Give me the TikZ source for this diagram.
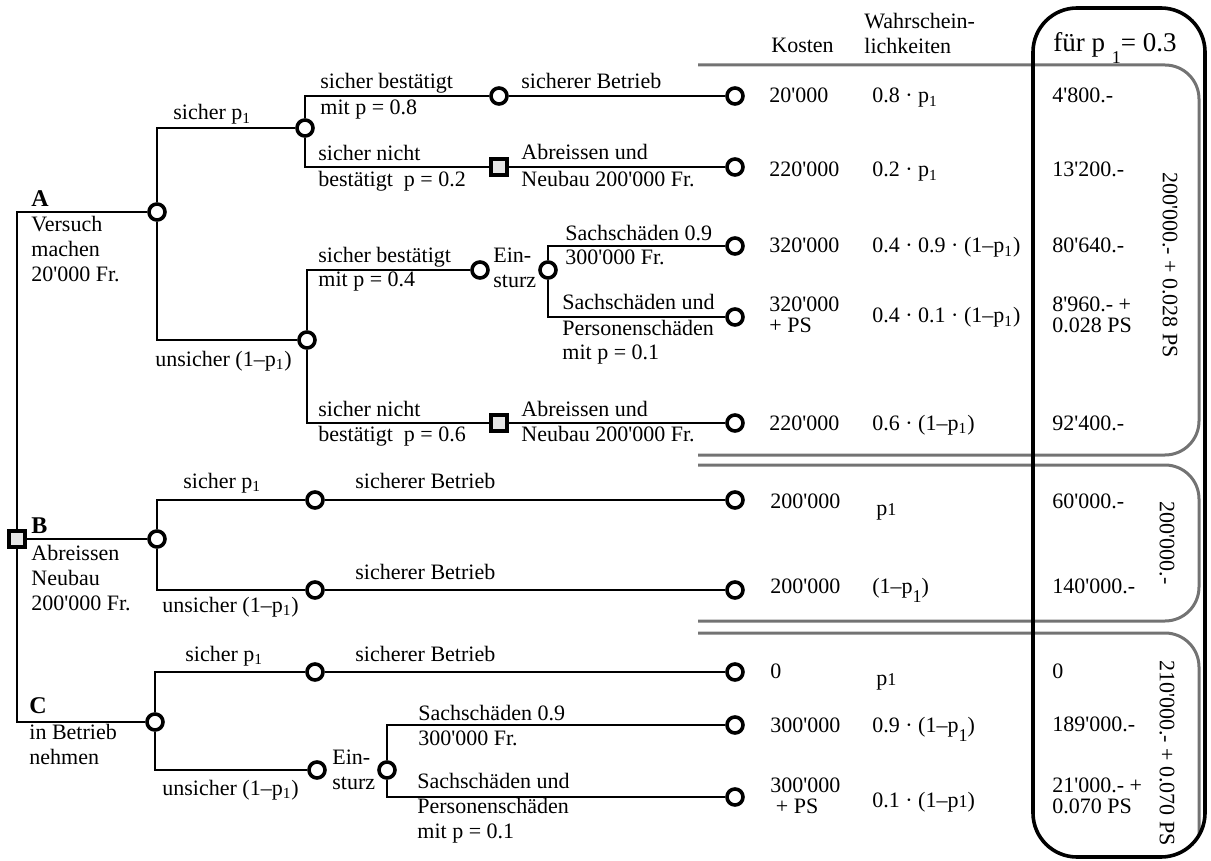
\documentclass[tikz,border=0pt]{standalone}
\usepackage{fontspec}
\setmainfont{Liberation Serif}[Ligatures=TeXOff]
\newcommand{\lowsub}[1]{\raisebox{-0.9ex}{\fontsize{9}{9}\selectfont #1}}

\begin{document}
\begin{tikzpicture}[
  x=0.5pt, y=-0.5pt,
  chance/.style={circle, draw, line width=1.8pt, fill=white, inner sep=0pt, minimum size=8pt},
  decision/.style={rectangle, draw, line width=1.6pt, fill=gray!20, inner sep=0pt, minimum size=8pt},
  branch/.style={line width=0.9pt},
  lab/.style={anchor=base west, inner sep=0pt, align=left, font=\fontsize{11}{12.5}\selectfont},
  head/.style={anchor=base west, inner sep=0pt, font=\fontsize{12}{12.5}\selectfont\bfseries},
  cell/.style={anchor=base west, inner sep=0pt, align=left, font=\fontsize{11}{10.5}\selectfont},
  group/.style={draw=black!55, line width=1.5pt, rounded corners=17pt},
  total/.style={rotate=-90, inner sep=0pt, font=\fontsize{11}{12}\selectfont}
]
  \useasboundingbox (0,0) rectangle (1211,861);

  % gray groups and result box
  \draw[group] (698,65) -- (1199,65) -- (1199,455) -- (698,455);
  \draw[group] (698,465) -- (1199,465) -- (1199,621) -- (698,621);
  \draw[group] (698,633) -- (1199,633) -- (1199,835);
  \draw[line width=1.8pt, rounded corners=22pt] (1033,8) rectangle (1205,857);

  % decision and chance points
  \node[decision] (dec) at (17,539) {};
  \node[chance] (cA) at (157,212) {};
  \node[chance] (cA1) at (305,128) {};
  \node[chance] (cA11) at (499,96) {};
  \node[decision] (dA12) at (499,167) {};
  \node[chance] (cA2) at (307,340) {};
  \node[chance] (cA21) at (480,270) {};
  \node[chance] (cA22) at (548,270) {};
  \node[decision] (dA23) at (499,423) {};
  \node[chance] (cB) at (157,539) {};
  \node[chance] (cB1) at (315,500) {};
  \node[chance] (cB2) at (315,590) {};
  \node[chance] (cC) at (155,722) {};
  \node[chance] (cC1) at (315,672) {};
  \node[chance] (cC2) at (317,770) {};
  \node[chance] (cC21) at (387,770) {};

  % outcomes
  \node[chance] (eA1) at (735,96) {};
  \node[chance] (eA2) at (735,167) {};
  \node[chance] (eA3) at (735,246) {};
  \node[chance] (eA4) at (735,317) {};
  \node[chance] (eA5) at (735,423) {};
  \node[chance] (eB1) at (735,500) {};
  \node[chance] (eB2) at (735,590) {};
  \node[chance] (eC1) at (735,672) {};
  \node[chance] (eC2) at (735,725) {};
  \node[chance] (eC3) at (735,797) {};

  \draw[branch] (dec) |- (cA);
  \draw[branch] (dec) -- (cB);
  \draw[branch] (dec) |- (cC);
  \draw[branch] (cA) |- (cA1);
  \draw[branch] (cA) |- (cA2);
  \draw[branch] (cA1) |- (cA11);
  \draw[branch] (cA1) |- (dA12);
  \draw[branch] (cA11) -- (eA1);
  \draw[branch] (dA12) -- (eA2);
  \draw[branch] (cA2) |- (cA21);
  \draw[branch] (cA2) |- (dA23);
  \draw[branch] (cA22) |- (eA3);
  \draw[branch] (cA22) |- (eA4);
  \draw[branch] (dA23) -- (eA5);
  \draw[branch] (cB) |- (cB1);
  \draw[branch] (cB) |- (cB2);
  \draw[branch] (cB1) -- (eB1);
  \draw[branch] (cB2) -- (eB2);
  \draw[branch] (cC) |- (cC1);
  \draw[branch] (cC) |- (cC2);
  \draw[branch] (cC1) -- (eC1);
  \draw[branch] (cC21) |- (eC2);
  \draw[branch] (cC21) |- (eC3);

  % labels of variant A (multi-line texts sit on their last baseline)
  \node[head] (hA) at (31,207) {A};
  \node[lab] (tA) at (31,282) {Versuch\\machen\\20'000 Fr.};
  \node[lab] (tA1) at (173,120) {sicher p\textsubscript{1}};
  \node[lab] (tA2) at (155,366) {unsicher (1–p\textsubscript{1})};
  \node[lab] (tA11) at (320,89) {sicher bestätigt};
  \node[lab] (tA11b) at (320,115) {mit p = 0.8};
  \node[lab] (tA11c) at (521,89) {sicherer Betrieb};
  \node[lab] (tA12) at (318,161) {sicher nicht};
  \node[lab] (tA12b) at (318,187) {bestätigt\ \ p = 0.2};
  \node[lab] (tA12c) at (521,160) {Abreissen und};
  \node[lab] (tA12d) at (521,187) {Neubau 200'000 Fr.};
  \node[lab] (tA21) at (318,263) {sicher bestätigt};
  \node[lab] (tA21b) at (318,287) {mit p = 0.4};
  \node[lab] (tA21c) at (493,288) {Ein-\\sturz};
  \node[lab] (tA3) at (565,241) {Sachschäden 0.9};
  \node[lab] (tA3b) at (565,265) {300'000 Fr.};
  \node[lab] (tA4) at (562,310) {Sachschäden und};
  \node[lab] (tA4b) at (562,360) {Personenschäden\\mit p = 0.1};
  \node[lab] (tA23) at (318,416) {sicher nicht};
  \node[lab] (tA23b) at (318,441) {bestätigt\ \ p = 0.6};
  \node[lab] (tA23c) at (521,416) {Abreissen und};
  \node[lab] (tA23d) at (521,441) {Neubau 200'000 Fr.};

  % labels of variant B
  \node[head] (hB) at (31,533) {B};
  \node[lab] (tB) at (31,610) {Abreissen\\Neubau\\200'000 Fr.};
  \node[lab] (tB1) at (183,488) {sicher p\textsubscript{1}};
  \node[lab] (tB1b) at (355,488) {sicherer Betrieb};
  \node[lab] (tB2) at (162,612) {unsicher (1–p\textsubscript{1})};
  \node[lab] (tB2b) at (355,579) {sicherer Betrieb};

  % labels of variant C
  \node[head] (hC) at (29,713) {C};
  \node[lab] (tC) at (29,764) {in Betrieb\\nehmen};
  \node[lab] (tC1) at (185,661) {sicher p\textsubscript{1}};
  \node[lab] (tC1b) at (355,661) {sicherer Betrieb};
  \node[lab] (tC2) at (162,795) {unsicher (1–p\textsubscript{1})};
  \node[lab] (tC2b) at (332,789) {Ein-\\sturz};
  \node[lab] (tC3) at (418,720) {Sachschäden 0.9};
  \node[lab] (tC3b) at (418,745) {300'000 Fr.};
  \node[lab] (tC4) at (417,788) {Sachschäden und};
  \node[lab] (tC4b) at (417,838) {Personenschäden\\mit p = 0.1};

  % table head
  \node[lab] (kosten) at (771,53) {Kosten};
  \node[lab] (wahr) at (864,54) {Wahrschein-\\lichkeiten};
  \node[anchor=base west, inner sep=0pt, font=\fontsize{13.5}{14}\selectfont] (fuer) at (1053,52) {für p \lowsub{1}= 0.3};

  % costs
  \node[cell] (k1) at (769,103) {20'000};
  \node[cell] (k2) at (769,177) {220'000};
  \node[cell] (k3) at (769,253) {320'000};
  \node[cell] (k4) at (769,333) {320'000\\+ PS};
  \node[cell] (k5) at (769,430) {220'000};
  \node[cell] (k6) at (770,508) {200'000};
  \node[cell] (k7) at (770,593) {200'000};
  \node[cell] (k8) at (770,678) {0};
  \node[cell] (k9) at (770,732) {300'000};
  \node[cell] (k10) at (770,813) {300'000\\\ + PS};

  % probabilities
  \node[cell] (w1) at (872,103) {0.8 · p\textsubscript{1}};
  \node[cell] (w2) at (872,177) {0.2 · p\textsubscript{1}};
  \node[cell] (w3) at (872,253) {0.4 · 0.9 · (1–p\textsubscript{1})};
  \node[cell] (w4) at (872,323) {0.4 · 0.1 · (1–p\textsubscript{1})};
  \node[cell] (w5) at (872,430) {0.6 · (1–p\textsubscript{1})};
  \node[cell] (w6) at (876,515) {p{\fontsize{9}{9}\selectfont 1}};
  \node[cell] (w7) at (872,593) {(1–p\lowsub{1})};
  \node[cell] (w8) at (876,685) {p{\fontsize{9}{9}\selectfont 1}};
  \node[cell] (w9) at (872,732) {0.9 · (1–p\lowsub{1})};
  \node[cell] (w10) at (872,807) {0.1 · (1–p{\fontsize{9}{9}\selectfont 1})};

  % results for p1 = 0.3
  \node[cell] (r1) at (1052,103) {4'800.-};
  \node[cell] (r2) at (1052,177) {13'200.-};
  \node[cell] (r3) at (1052,253) {80'640.-};
  \node[cell] (r4) at (1052,333) {8'960.- +\\0.028 PS};
  \node[cell] (r5) at (1052,430) {92'400.-};
  \node[cell] (r6) at (1052,508) {60'000.-};
  \node[cell] (r7) at (1052,593) {140'000.-};
  \node[cell] (r8) at (1052,678) {0};
  \node[cell] (r9) at (1052,731) {189'000.-};
  \node[cell] (r10) at (1052,813) {21'000.- +\\0.070 PS};

  \node[total] (sumA) at (1170,265) {200'000.- + 0.028 PS};
  \node[total] (sumB) at (1167,543) {200'000.-};
  \node[total] (sumC) at (1167,753) {210'000.- + 0.070 PS};
\end{tikzpicture}
\end{document}
